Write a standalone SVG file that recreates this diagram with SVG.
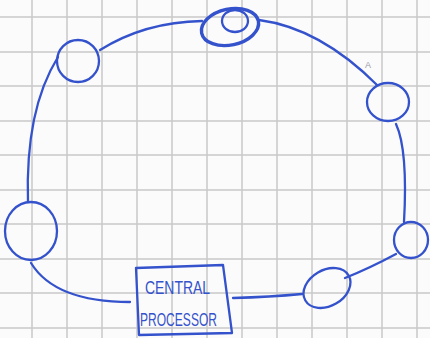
<svg xmlns="http://www.w3.org/2000/svg" width="430" height="338" viewBox="0 0 430 338">
<defs>
<style>
.grid line{stroke:#c8c8c8;stroke-width:1.5}
.ink{fill:none;stroke:#3452cc;stroke-width:2.3;stroke-linecap:round;stroke-linejoin:round}
.thick{stroke-width:3.4}
.lbl{font-family:"Liberation Sans",Arial,sans-serif;font-size:19px;fill:#3452cc}
.faint{font-family:"Liberation Sans",Arial,sans-serif;font-size:9px;fill:#9a9aa8}
</style>
</defs>
<rect width="430" height="338" fill="#fbfbfb"/>
<g class="grid">
<line x1="32" y1="0" x2="32" y2="338"/><line x1="67" y1="0" x2="67" y2="338"/><line x1="102" y1="0" x2="102" y2="338"/><line x1="137" y1="0" x2="137" y2="338"/><line x1="172" y1="0" x2="172" y2="338"/><line x1="207" y1="0" x2="207" y2="338"/><line x1="242" y1="0" x2="242" y2="338"/><line x1="277" y1="0" x2="277" y2="338"/><line x1="312" y1="0" x2="312" y2="338"/><line x1="347" y1="0" x2="347" y2="338"/><line x1="382" y1="0" x2="382" y2="338"/><line x1="417" y1="0" x2="417" y2="338"/>
<line x1="0" y1="17" x2="430" y2="17"/><line x1="0" y1="52" x2="430" y2="52"/><line x1="0" y1="86" x2="430" y2="86"/><line x1="0" y1="121" x2="430" y2="121"/><line x1="0" y1="155" x2="430" y2="155"/><line x1="0" y1="190" x2="430" y2="190"/><line x1="0" y1="224" x2="430" y2="224"/><line x1="0" y1="259" x2="430" y2="259"/><line x1="0" y1="293" x2="430" y2="293"/><line x1="0" y1="328" x2="430" y2="328"/>
</g>
<g id="connectors" class="ink">
<path d="M100,50 Q145,22 202,21"/>
<path d="M259,20 Q320,28 377,85"/>
<path d="M396,124 Q408,150 404,222"/>
<path d="M396,254 Q370,268 345,278"/>
<path d="M302,294 Q270,297 233,298"/>
<path d="M31,263 Q55,302 130,302"/>
<path d="M28,202 Q25,110 58,57"/>
</g>
<g id="node-top">
<ellipse class="ink thick" cx="230" cy="27" rx="29" ry="18" transform="rotate(-12 230 27)"/>
<ellipse class="ink" cx="235" cy="21" rx="13" ry="11"/>
</g>
<g id="node-topleft"><ellipse class="ink" cx="78" cy="61" rx="21" ry="21"/></g>
<g id="node-right">
<ellipse class="ink" cx="388" cy="102" rx="21" ry="19"/>
<text class="faint" x="365" y="68">A</text>
</g>
<g id="node-left"><ellipse class="ink" cx="31" cy="231" rx="26" ry="29"/></g>
<g id="node-rightbottom"><ellipse class="ink" cx="411" cy="240" rx="17" ry="18"/></g>
<g id="node-bottom"><ellipse class="ink" cx="327" cy="288" rx="25" ry="18" transform="rotate(-30 327 288)"/></g>
<g id="node-processor">
<path class="ink" d="M136,268 L223,265 L232,333 L139,335 Z"/>
<text class="lbl" x="145" y="294" textLength="65" lengthAdjust="spacingAndGlyphs">CENTRAL</text>
<text class="lbl" x="140" y="326" textLength="77" lengthAdjust="spacingAndGlyphs">PROCESSOR</text>
</g>
</svg>
